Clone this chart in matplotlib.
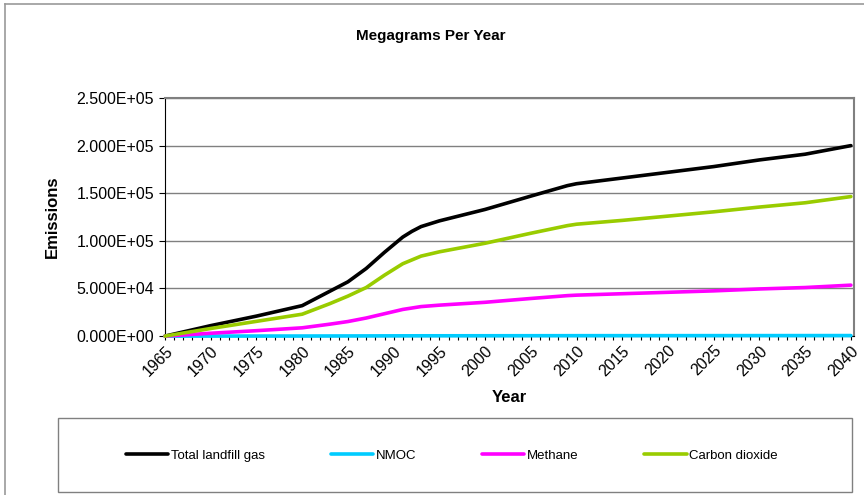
#Imports
import matplotlib
matplotlib.use("Agg")
import matplotlib.pyplot as plt
from matplotlib.lines import Line2D
from matplotlib.patches import Rectangle
from matplotlib.ticker import FuncFormatter

plt.rcParams['font.family'] = ['Liberation Sans', 'DejaVu Sans']

# Data (Megagrams per year)
years = [1965, 1970, 1975, 1980, 1983, 1985, 1987, 1989, 1991, 1992, 1993,
         1995, 2000, 2005, 2009, 2010, 2015, 2020, 2025, 2030, 2035, 2040]
total_gas = [0, 11000, 21000, 32000, 47000, 57000, 71000, 88000, 104000, 110000, 115000,
             121000, 133000, 147000, 158000, 160000, 166000, 172000, 178000, 185000, 191000, 200000]
nmoc = [0, 30, 60, 90, 130, 160, 200, 250, 290, 310, 330,
        340, 370, 410, 440, 450, 470, 480, 500, 520, 540, 560]
methane = [0, 3000, 5700, 8700, 12500, 15300, 19000, 23500, 28000, 29500, 31000,
           32500, 35500, 39500, 42500, 43000, 44500, 46000, 47500, 49500, 51000, 53500]
carbon_dioxide = [0, 8000, 15500, 23000, 34000, 42000, 51000, 64000, 76000, 80000, 84000,
                  88500, 97500, 108000, 116000, 117500, 121500, 126000, 130500, 135500, 140000, 146500]

series = [("Total landfill gas", total_gas, "#000000"),
          ("NMOC", nmoc, "#00CCFF"),
          ("Methane", methane, "#FF00FF"),
          ("Carbon dioxide", carbon_dioxide, "#99CC00")]

# Figure and plot area
fig = plt.figure(figsize=(8.64, 4.95), dpi=100)
ax = fig.add_axes([0.191, 0.321, 0.797, 0.481])

for name, vals, col in series:
    ax.plot(years, vals, color=col, lw=2.6, label=name, solid_capstyle='round', clip_on=False, zorder=3)

ax.set_xlim(1965, 2040.3)
ax.set_ylim(0, 250000)
ax.set_yticks(range(0, 250001, 50000))
ax.yaxis.set_major_formatter(FuncFormatter(lambda v, p: "{:.3E}".format(v)))
ax.set_xticks(range(1965, 2041, 5))
ax.set_xticks(range(1965, 2041, 1), minor=True)
ax.tick_params(axis='x', which='both', direction='out', length=3, width=0.8, labelsize=11.5, pad=2)
ax.tick_params(axis='y', direction='out', length=4, width=0.8, labelsize=11.5, pad=4)
plt.setp(ax.get_xticklabels(), rotation=45, ha='right', rotation_mode='anchor')

ax.grid(axis='y', color='#808080', lw=1)
ax.set_axisbelow(True)
for side in ['top', 'right']:
    ax.spines[side].set_color('#808080')
    ax.spines[side].set_linewidth(1.5)
ax.spines['left'].set_color('black')
ax.spines['bottom'].set_color('black')

ax.set_xlabel("Year", fontsize=12, fontweight='bold', labelpad=8)
ax.set_ylabel("Emissions", fontsize=12, fontweight='bold', labelpad=12)
fig.text(0.499, 0.927, "Megagrams Per Year", ha='center', va='center', fontsize=11, fontweight='bold')

# Legend with box
fig.legend(loc='center', bbox_to_anchor=(0.523, 0.079), ncol=4, frameon=False,
           fontsize=9.5, handlelength=3.2, handletextpad=0.2, columnspacing=5.0)
fig.add_artist(Rectangle((0.067, 0.006), 0.919, 0.149, transform=fig.transFigure,
                         fill=False, edgecolor='#808080', lw=1))

# Outer chart border
fig.add_artist(Line2D([0.006, 0.006], [0, 0.992], transform=fig.transFigure, color='#999999', lw=1.2))
fig.add_artist(Line2D([0.006, 1], [0.992, 0.992], transform=fig.transFigure, color='#999999', lw=1.2))

plt.savefig("out.png", dpi=100)
